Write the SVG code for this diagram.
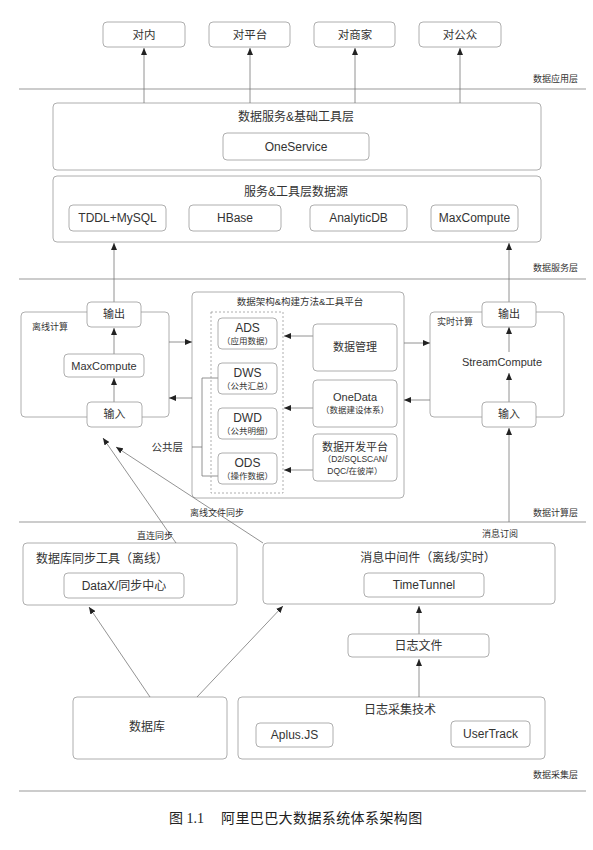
<svg xmlns="http://www.w3.org/2000/svg" width="593" height="850" viewBox="0 0 593 850">
<defs>
<marker id="ah" viewBox="0 0 7 6" refX="7" refY="3" markerWidth="7" markerHeight="6" markerUnits="userSpaceOnUse" orient="auto">
<path d="M0,0 L7,3 L0,6 z" fill="#222"/>
</marker>
<style>
text{font-family:"Liberation Sans","Noto Sans CJK SC",sans-serif;fill:#333;text-anchor:middle}
.b{fill:#fff;stroke:#9a9a9a;stroke-width:0.8}
.big{fill:none;stroke:#9a9a9a;stroke-width:0.8}
.dot{fill:none;stroke:#9a9a9a;stroke-width:0.8;stroke-dasharray:2 2}
.div{stroke:#999;stroke-width:1;fill:none}
.c{stroke:#777;stroke-width:0.8;fill:none}
.a{stroke:#777;stroke-width:0.8;fill:none;marker-end:url(#ah)}
.t12{font-size:12px}
.t11{font-size:11px}
.t115{font-size:11.5px}
.s{font-size:9px}
.sub{font-size:8.5px}
.lbl{font-size:9px;text-anchor:end}
.l{text-anchor:start}
</style>
</defs>
<rect width="593" height="850" fill="#fff"/>

<g id="dividers">
<line class="div" x1="19" y1="89" x2="586" y2="89"/>
<line class="div" x1="19" y1="279" x2="586" y2="279"/>
<line class="div" x1="19" y1="522" x2="586" y2="522"/>
<line class="div" x1="19" y1="791" x2="586" y2="791"/>
<text class="lbl" x="578" y="82">数据应用层</text>
<text class="lbl" x="578" y="271">数据服务层</text>
<text class="lbl" x="578" y="516">数据计算层</text>
<text class="lbl" x="578" y="778">数据采集层</text>
</g>

<g id="big-containers">
<rect id="n-service" class="b" x="53" y="103" width="488" height="67" rx="4"/>
<rect id="n-datasrc" class="b" x="53" y="176" width="488" height="66" rx="4"/>
<rect id="n-offline" class="big" x="21" y="312" width="148" height="105" rx="4"/>
<rect id="n-arch" class="big" x="192" y="292" width="212" height="206" rx="4"/>
<rect id="n-realtime" class="big" x="430" y="312" width="134" height="105" rx="4"/>
<rect id="n-dbsync" class="b" x="23" y="543" width="214" height="62" rx="4"/>
<rect id="n-mq" class="b" x="263" y="543" width="292" height="61" rx="4"/>
<rect id="n-db" class="b" x="73" y="697" width="154" height="62" rx="4"/>
<rect id="n-logtech" class="b" x="238" y="697" width="307" height="62" rx="4"/>
</g>

<g id="connectors">
<line class="a" x1="144" y1="103" x2="144" y2="48"/>
<line class="a" x1="250" y1="103" x2="250" y2="48"/>
<line class="a" x1="355" y1="103" x2="355" y2="48"/>
<line class="a" x1="460" y1="103" x2="460" y2="48"/>
<line class="a" x1="114" y1="302" x2="114" y2="243"/>
<line class="a" x1="509" y1="302" x2="509" y2="243"/>
<line class="a" x1="114" y1="354" x2="114" y2="328"/>
<line class="a" x1="114" y1="402" x2="114" y2="378"/>
<line class="a" x1="509" y1="352" x2="509" y2="327"/>
<line class="a" x1="509" y1="402" x2="509" y2="373"/>
<line class="a" x1="509" y1="522" x2="509" y2="428"/>
<line class="a" x1="169" y1="342" x2="192" y2="342"/>
<line class="a" x1="192" y1="398" x2="169" y2="398"/>
<line class="a" x1="404" y1="343" x2="430" y2="343"/>
<line class="a" x1="430" y1="400" x2="404" y2="400"/>
<line class="a" x1="313" y1="336" x2="284" y2="336"/>
<line class="a" x1="313" y1="408" x2="284" y2="408"/>
<line class="a" x1="313" y1="470" x2="284" y2="470"/>
<polyline class="c" points="218,378 202,378 202,476 218,476"/>
<line class="c" x1="192" y1="447" x2="202" y2="447"/>
<line class="a" x1="176" y1="543" x2="103" y2="438"/>
<line class="a" x1="263" y1="543" x2="116" y2="447"/>
<line class="a" x1="150" y1="697" x2="89" y2="607"/>
<line class="a" x1="197" y1="697" x2="283" y2="606"/>
<line class="a" x1="419" y1="697" x2="419" y2="659"/>
<line class="a" x1="419" y1="634" x2="419" y2="606"/>
</g>

<g id="n-duinei"><rect class="b" x="103" y="22" width="82" height="25" rx="4"/><text class="t115" x="144" y="39">对内</text></g>
<g id="n-duipingtai"><rect class="b" x="209" y="22" width="81" height="25" rx="4"/><text class="t115" x="250" y="39">对平台</text></g>
<g id="n-duishangjia"><rect class="b" x="314" y="22" width="81" height="25" rx="4"/><text class="t115" x="355" y="39">对商家</text></g>
<g id="n-duigongzhong"><rect class="b" x="419" y="22" width="82" height="25" rx="4"/><text class="t115" x="460" y="39">对公众</text></g>

<g id="n-service-text">
<text class="t12" x="296" y="121">数据服务&amp;基础工具层</text>
</g>
<g id="n-oneservice"><rect class="b" x="223" y="133" width="146" height="27" rx="4"/><text class="t12" x="296" y="151">OneService</text></g>

<g id="n-datasrc-text"><text class="t12" x="296" y="196">服务&amp;工具层数据源</text></g>
<g id="n-tddl"><rect class="b" x="69" y="205" width="97" height="26" rx="4"/><text class="t12" x="117.5" y="222">TDDL+MySQL</text></g>
<g id="n-hbase"><rect class="b" x="189" y="205" width="92" height="26" rx="4"/><text class="t12" x="235" y="222">HBase</text></g>
<g id="n-analyticdb"><rect class="b" x="310" y="205" width="97" height="26" rx="4"/><text class="t12" x="358.5" y="222">AnalyticDB</text></g>
<g id="n-maxcompute-src"><rect class="b" x="431" y="205" width="87" height="26" rx="4"/><text class="t12" x="474.5" y="222">MaxCompute</text></g>

<g id="n-offline-text"><text class="s l" x="32" y="330">离线计算</text></g>
<g id="n-off-out"><rect class="b" x="87" y="302" width="54" height="25" rx="4"/><text class="t11" x="114" y="318">输出</text></g>
<g id="n-off-mc"><rect class="b" x="64" y="354" width="80" height="23" rx="4"/><text class="t11" x="104" y="369.5">MaxCompute</text></g>
<g id="n-off-in"><rect class="b" x="87" y="402" width="55" height="25" rx="4"/><text class="t11" x="114.5" y="418">输入</text></g>

<g id="n-realtime-text"><text class="s l" x="437" y="325">实时计算</text></g>
<g id="n-rt-out"><rect class="b" x="482" y="302" width="54" height="25" rx="4"/><text class="t11" x="509" y="318">输出</text></g>
<g id="n-streamcompute"><text class="t11" x="502" y="366">StreamCompute</text></g>
<g id="n-rt-in"><rect class="b" x="482" y="402" width="54" height="25" rx="4"/><text class="t11" x="509" y="418">输入</text></g>

<g id="n-arch-text"><text style="font-size:9.5px" x="300" y="305">数据架构&amp;构建方法&amp;工具平台</text></g>
<g id="n-public">
<rect class="dot" x="211" y="312" width="72" height="181"/>
<text style="font-size:10.5px;text-anchor:end" x="183" y="451">公共层</text>
</g>
<g id="n-ads"><rect class="b" x="218" y="318" width="59" height="31" rx="4"/><text class="t12" x="247.5" y="332">ADS</text><text class="sub" x="247.5" y="344">（应用数据）</text></g>
<g id="n-dws"><rect class="b" x="218" y="363" width="59" height="31" rx="4"/><text class="t12" x="247.5" y="377">DWS</text><text class="sub" x="247.5" y="389">（公共汇总）</text></g>
<g id="n-dwd"><rect class="b" x="218" y="408" width="59" height="31" rx="4"/><text class="t12" x="247.5" y="422">DWD</text><text class="sub" x="247.5" y="434">（公共明细）</text></g>
<g id="n-ods"><rect class="b" x="218" y="453" width="59" height="31" rx="4"/><text class="t12" x="247.5" y="467">ODS</text><text class="sub" x="247.5" y="479">（操作数据）</text></g>

<g id="n-datamgmt"><rect class="b" x="313" y="324" width="84" height="47" rx="4"/><text class="t11" x="355" y="351">数据管理</text></g>
<g id="n-onedata"><rect class="b" x="313" y="380" width="84" height="47" rx="4"/><text class="t11" x="355" y="401">OneData</text><text class="sub" x="355" y="413">（数据建设体系）</text></g>
<g id="n-devplat"><rect class="b" x="313" y="434" width="84" height="47" rx="4"/><text class="t11" x="355" y="451">数据开发平台</text><text class="sub" x="355" y="462">（D2/SQLSCAN/</text><text class="sub" x="355" y="474">DQC/在彼岸）</text></g>

<g id="edge-labels">
<text class="s" x="217" y="516">离线文件同步</text>
<text class="s" x="155" y="539">直连同步</text>
<text class="s" x="500" y="537">消息订阅</text>
</g>

<g id="n-dbsync-text"><text class="t12 l" x="36" y="563">数据库同步工具（离线）</text></g>
<g id="n-datax"><rect class="b" x="64" y="573" width="120" height="25" rx="4"/><text class="t12" x="124" y="590">DataX/同步中心</text></g>
<g id="n-mq-text"><text class="t12" x="428" y="562">消息中间件（离线/实时）</text></g>
<g id="n-timetunnel"><rect class="b" x="364" y="573" width="120" height="24" rx="4"/><text class="t12" x="424" y="589">TimeTunnel</text></g>
<g id="n-logfile"><rect class="b" x="348" y="634" width="141" height="23" rx="4"/><text class="t12" x="418.5" y="650">日志文件</text></g>
<g id="n-db-text"><text class="t12" x="147" y="731">数据库</text></g>
<g id="n-logtech-text"><text class="t12" x="400" y="714">日志采集技术</text></g>
<g id="n-aplus"><rect class="b" x="256" y="723" width="77" height="24" rx="4"/><text class="t12" x="294.5" y="739">Aplus.JS</text></g>
<g id="n-usertrack"><rect class="b" x="451" y="721" width="79" height="26" rx="4"/><text class="t12" x="490.5" y="738">UserTrack</text></g>

<g id="caption">
<text style="font-size:14px;text-anchor:start;font-family:'Liberation Serif','Noto Sans CJK SC',serif;fill:#222"><tspan x="169" y="823">图 1.1</tspan><tspan x="221" y="823" style="letter-spacing:0.4px">阿里巴巴大数据系统体系架构图</tspan></text>
</g>
</svg>
